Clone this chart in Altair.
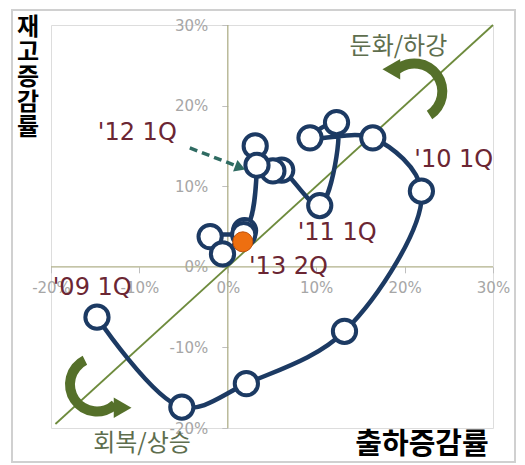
import altair as alt
import pandas as pd

# ---- data (percent) ----
quarters = ["'09 1Q", "'09 2Q", "'09 3Q", "'09 4Q", "'10 1Q", "'10 2Q", "'10 3Q", "'10 4Q",
            "'11 1Q", "'11 2Q", "'11 3Q", "'11 4Q", "'12 1Q", "'12 2Q", "'12 3Q", "'12 4Q",
            "'13 1Q", "'13 2Q"]
shipment = [-14.8, -5.2, 2.1, 13.2, 21.9, 16.4, 9.3, 12.3,
            10.4, 6.1, 5.1, 3.1, 3.3, 1.9, -2.0, -0.6, 1.8, 1.7]
inventory = [-6.25, -17.4, -14.5, -8.0, 9.4, 16.0, 16.0, 17.9,
             7.6, 12.0, 11.9, 15.0, 12.6, 4.5, 3.75, 1.6, 4.0, 3.1]
tick_values = [-20, -10, 0, 10, 20, 30]

label_text = ["'10 1Q", "'11 1Q", "'13 2Q", "'09 1Q", "'12 1Q"]
label_x = [21.1, 7.9, 2.4, -19.8, -14.7]
label_y = [13.25, 4.25, 0.0, -2.6, 16.6]

phase_text = ["둔화/하강", "회복/상승"]
phase_x = [19.3, -9.7]
phase_y = [27.3, -22.0]

ytitle_chars = ["재", "고", "증", "감", "률"]
ytitle_x = [-22.6] * 5
ytitle_y = [29.6, 26.5, 23.4, 20.3, 17.2]

diag_x = [-19.5, 30]
diag_y = [-19.5, 30]

dash_x = [-4.3, 0.9]
dash_y = [14.75, 12.55]

W, H = 442, 403
DOM = [-20, 30]

df = pd.DataFrame({"q": quarters, "x": shipment, "y": inventory, "i": range(len(quarters))})
df["last"] = df["i"] == len(df) - 1

xs = alt.Scale(domain=DOM, nice=False, zero=False)
ys = alt.Scale(domain=DOM, nice=False, zero=False)

axis_common = dict(values=tick_values, labelExpr="datum.value + '%'", domain=False, grid=False,
                   tickColor="#BFBFBF", tickSize=6, labelColor="#A6A6A6", labelFontSize=15,
                   labelFont="DejaVu Sans", title=None, labelOverlap=False, labelFlush=False)
xaxis = alt.Axis(orient="bottom", offset=-0.4 * H, labelPadding=8, **axis_common)
yaxis = alt.Axis(orient="left", offset=-0.4 * W, labelPadding=14, **axis_common)

X = alt.X("x:Q", scale=xs, axis=xaxis)
Y = alt.Y("y:Q", scale=ys, axis=yaxis)

LINE = "#1C3A63"
OLIVE = "#6E8B3D"
ZERO = "#B0B08A"
GREEN = "#55702A"
LBL = "#6B2633"

base = alt.Chart(df)

border = alt.Chart(pd.DataFrame({"a": [0]})).mark_rect(fill=None, stroke="#D0D0D0", strokeWidth=2).encode(
    x=alt.value(-39), x2=alt.value(464), y=alt.value(-15), y2=alt.value(437))

zero_v = alt.Chart(pd.DataFrame({"x": [0]})).mark_rule(color=ZERO, strokeWidth=1.3).encode(x=X)
zero_h = alt.Chart(pd.DataFrame({"y": [0]})).mark_rule(color=ZERO, strokeWidth=1.3).encode(y=Y)

diag = alt.Chart(pd.DataFrame({"x": diag_x, "y": diag_y})).mark_line(color=OLIVE, strokeWidth=1.8).encode(
    x=X, y=Y)

path = base.mark_line(color=LINE, strokeWidth=4.5, interpolate="catmull-rom").encode(
    x=X, y=Y, order="i:Q")

pts = base.transform_filter("!datum.last").mark_point(
    shape="circle", filled=True, fill="white", stroke=LINE, strokeWidth=4, size=540, opacity=1).encode(
    x=X, y=Y, order="i:Q")

last = base.transform_filter("datum.last").mark_point(
    shape="circle", filled=True, fill="#EE6F10", stroke="#C0500A", strokeWidth=1, size=400, opacity=1).encode(
    x=X, y=Y)

dash = alt.Chart(pd.DataFrame({"x": dash_x, "y": dash_y})).mark_line(
    color="#2F6B62", strokeWidth=3.5, strokeDash=[8, 5]).encode(x=X, y=Y)
dash_head = alt.Chart(pd.DataFrame({"x": [1.4], "y": [12.3]})).mark_point(
    shape="triangle-right", filled=True, color="#2F6B62", size=150, angle=21, opacity=1).encode(x=X, y=Y)

labels = alt.Chart(pd.DataFrame({"t": label_text, "x": label_x, "y": label_y})).mark_text(
    align="left", baseline="middle", font="DejaVu Sans", fontSize=24, color=LBL).encode(
    x=X, y=Y, text="t:N")

phases = alt.Chart(pd.DataFrame({"t": phase_text, "x": phase_x, "y": phase_y})).mark_text(
    align="center", baseline="middle", font="Noto Sans CJK KR", fontSize=24, color="#5E6E4E").encode(
    x=X, y=Y, text="t:N")

arc_tr = alt.Chart(pd.DataFrame({"x": [21.1], "y": [21.75]})).mark_arc(
    radius=33, radius2=23, theta=5.62, theta2=8.85, color=GREEN).encode(x=X, y=Y)
head_tr = alt.Chart(pd.DataFrame({"x": [18.5], "y": [24.5]})).mark_point(
    shape="triangle-left", filled=True, color=GREEN, size=420, opacity=1).encode(x=X, y=Y)

arc_bl = alt.Chart(pd.DataFrame({"x": [-14.8], "y": [-14.6]})).mark_arc(
    radius=32, radius2=22, theta=2.40, theta2=5.82, color=GREEN).encode(x=X, y=Y)
head_bl = alt.Chart(pd.DataFrame({"x": [-11.9], "y": [-17.5]})).mark_point(
    shape="triangle-right", filled=True, color=GREEN, size=420, opacity=1).encode(x=X, y=Y)

ytitle = alt.Chart(pd.DataFrame({"t": ytitle_chars, "x": ytitle_x, "y": ytitle_y})).mark_text(
    align="center", baseline="middle", font="Noto Sans CJK KR", fontSize=24, fontWeight="bold",
    color="black").encode(x=X, y=Y, text="t:N")
xtitle = alt.Chart(pd.DataFrame({"t": ["출하증감률"]})).mark_text(
    align="center", baseline="middle", font="Noto Sans CJK KR", fontSize=29, fontWeight="bold",
    color="black").encode(x=alt.value(371), y=alt.value(420), text="t:N")

chart = alt.layer(
    border, zero_v, zero_h, diag, arc_tr, head_tr, arc_bl, head_bl,
    path, pts, last, dash, dash_head, labels, phases, ytitle, xtitle
).properties(
    width=W, height=H, autosize=alt.AutoSizeParams(type="none"),
    padding={"left": 51, "top": 25, "right": 32, "bottom": 37}
).configure_view(stroke="#BDBD9A", strokeWidth=1.3).configure(background="white")

chart.save("out.html", embed_options={"renderer": "svg", "actions": False})
